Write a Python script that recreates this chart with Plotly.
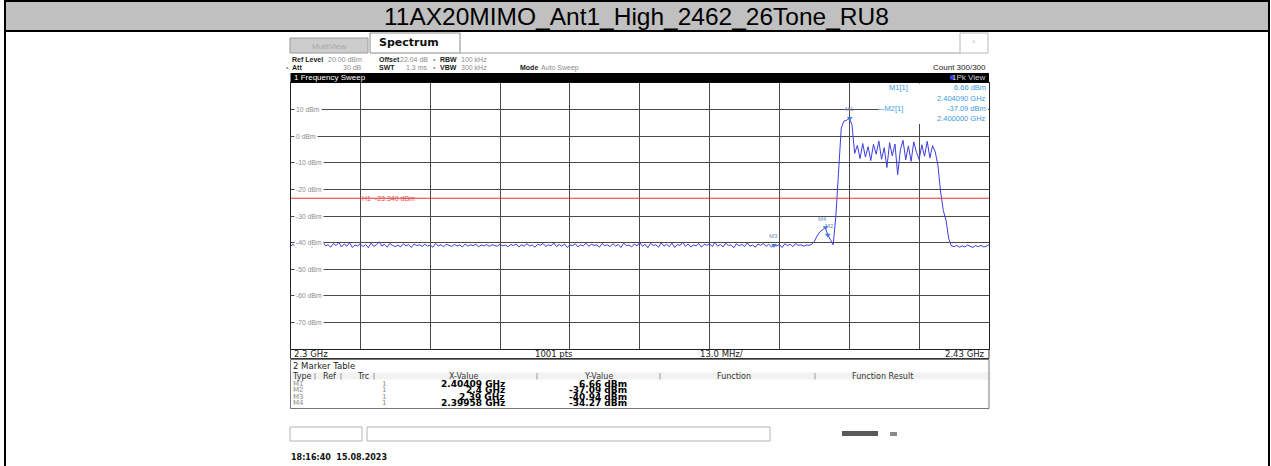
import numpy as np
import plotly.graph_objects as go

W, H = 1271, 466

title_text = "11AX20MIMO_Ant1_High_2462_26Tone_RU8"

# ---------------- trace data (0.5 MHz grid starting at 2.300 GHz) ----------------
start_ghz = 2.300
step_ghz = 0.0005

noise_left_dbm = [
    -41.3, -40.6, -41.8, -40.2, -41.0, -39.8, -41.5, -40.4, -41.9, -40.7,
    -40.1, -41.4, -39.6, -41.2, -40.8, -41.7, -40.3, -41.1, -39.9, -41.6,
    -40.5, -41.3, -40.0, -41.8, -40.9, -41.2, -40.4, -41.5, -40.7, -41.9,
    -40.2, -41.4, -40.8, -39.7, -41.3, -40.6, -41.7, -40.3, -41.0, -41.5,
    -40.9, -41.6, -40.4, -41.2, -40.7, -41.8, -40.5, -41.1, -40.8, -41.4,
    -40.6, -41.3, -40.9, -41.7, -40.3, -41.2, -40.8, -41.5, -40.6, -41.0,
    -41.4, -40.7, -41.2, -40.9, -41.6, -40.5, -41.3, -40.8, -41.1, -40.6,
    -41.5, -40.9, -41.2, -40.7, -41.4, -40.8, -41.0, -41.3, -40.6, -41.2,
    -40.9, -41.5, -40.7, -41.1, -40.5, -41.6, -40.8, -41.3, -40.4, -41.2,
    -40.9, -41.7, -40.6, -41.0, -40.3, -41.4, -40.8, -41.2, -40.1, -41.5,
    -40.7, -41.3, -40.5, -41.8, -40.9, -41.1, -40.4, -41.6, -40.8, -41.2,
    -40.2, -41.4, -40.6, -41.0, -40.9, -41.7, -40.3, -41.2, -40.8, -41.5,
    -40.4, -41.3, -40.7, -41.8, -40.2, -41.1, -40.9, -41.6, -40.5, -41.2,
    -39.9, -41.4, -40.6, -41.9, -40.3, -41.0, -40.8, -41.7, -40.1, -41.3,
    -40.6, -41.5, -40.2, -41.8, -40.7, -41.1, -39.8, -41.4, -40.5, -41.6,
    -40.9, -41.2, -40.3, -41.7, -40.6, -41.0, -40.4, -41.5, -39.9, -41.3,
    -40.7, -41.6, -40.2, -41.1, -40.8, -41.9, -40.4, -41.2, -40.6, -41.5,
    -40.1, -41.3, -40.9, -41.7, -40.5, -41.0, -40.3, -41.4, -40.6, -41.6,
    -40.94, -41.2, -40.7, -41.8, -40.4, -41.1, -40.6, -41.5, -40.3, -41.0,
    -40.8, -41.3, -40.9,
]

signal_dbm = [
    -41.0, -40.6, -39.5, -37.5, -36.0, -35.2, -34.3, -37.1, -39.0, -40.8,
    -30.0, -12.0, 3.0, 5.6, 5.9, 6.6, 4.2, -6.5,
    -3.5, -8.5, -2.8, -7.9, -4.0, -9.2, -3.1, -6.8, -1.9, -8.7,
    -4.4, -11.8, -2.5, -7.4, -3.0, -14.5, -5.2, -1.6, -8.9, -3.7,
    -9.5, -2.2, -6.1, -8.8, -3.3, -7.6, -2.0, -8.2, -3.6, -6.0,
    -11.0, -21.0, -28.0, -31.5, -38.5, -41.2,
]

noise_right_dbm = [
    -41.5, -41.0, -41.7, -41.2, -41.6, -40.9, -41.4, -41.8, -41.1, -41.5,
    -41.0, -41.6, -41.3, -40.8,
]

level_dbm = noise_left_dbm + signal_dbm + noise_right_dbm
freq_ghz = start_ghz + step_ghz * np.arange(len(level_dbm))

# ---------------- markers / lines ----------------
marker_names = ["M1", "M2", "M3", "M4"]
marker_freq_ghz = [2.40409, 2.4, 2.39, 2.39958]
marker_level_dbm = [6.66, -37.09, -40.94, -34.27]
marker_x_text = ["2.40409 GHz", "2.4 GHz", "2.39 GHz", "2.39958 GHz"]
marker_y_text = ["6.66 dBm", "-37.09 dBm", "-40.94 dBm", "-34.27 dBm"]

h1_level_dbm = -23.34
h1_text = "H1  -23.340 dBm"

y_grid_levels = [10, 0, -10, -20, -30, -40, -50, -60, -70]
x_start_label = "2.3 GHz"
x_stop_label = "2.43 GHz"
x_start_ghz = 2.30
x_stop_ghz = 2.43
span_per_div = 0.013

# ---------------- geometry helpers ----------------
def px(x):
    return x / W


def py(y):
    return 1 - y / H


PL, PR, PT, PB = 290.5, 989.0, 82.7, 349.3

fig = go.Figure()

fig.add_trace(go.Scatter(
    x=freq_ghz, y=level_dbm, mode="lines",
    line=dict(color="#3d3ddc", width=1), hoverinfo="skip", showlegend=False,
))

fig.add_trace(go.Scatter(
    x=[x_start_ghz, x_stop_ghz], y=[h1_level_dbm, h1_level_dbm], mode="lines",
    line=dict(color="#e83030", width=1), hoverinfo="skip", showlegend=False,
))

fig.add_trace(go.Scatter(
    x=marker_freq_ghz, y=marker_level_dbm, mode="markers",
    marker=dict(symbol="triangle-down", size=5, color="#3d7fd8"),
    hoverinfo="skip", showlegend=False,
))

fig.update_xaxes(
    domain=[px(PL), px(PR)], range=[x_start_ghz, x_stop_ghz],
    tick0=x_start_ghz, dtick=span_per_div, showgrid=True,
    gridcolor="#4a4a4a", gridwidth=1, showticklabels=False, ticks="",
    zeroline=False, showline=True, linecolor="#222", linewidth=1, mirror=True,
)
fig.update_yaxes(
    domain=[py(PB), py(PT)], range=[-80, 20], dtick=10, showgrid=True,
    gridcolor="#4a4a4a", gridwidth=1, showticklabels=False, ticks="",
    zeroline=False, showline=True, linecolor="#222", linewidth=1, mirror=True,
)

shapes = []
ann = []


def rect(x0, y0, x1, y1, fill=None, line="#000", lw=1, layer="above"):
    shapes.append(dict(
        type="rect", xref="paper", yref="paper",
        x0=px(x0), x1=px(x1), y0=py(y1), y1=py(y0),
        fillcolor=fill if fill else "rgba(0,0,0,0)",
        line=dict(color=line, width=lw) if lw else dict(width=0),
        layer=layer,
    ))


def hline(x0, x1, y, color="#000", lw=1):
    shapes.append(dict(type="line", xref="paper", yref="paper",
                       x0=px(x0), x1=px(x1), y0=py(y), y1=py(y),
                       line=dict(color=color, width=lw)))


def vline(x, y0, y1, color="#000", lw=1):
    shapes.append(dict(type="line", xref="paper", yref="paper",
                       x0=px(x), x1=px(x), y0=py(y0), y1=py(y1),
                       line=dict(color=color, width=lw)))


def text(x, y, s, size=8, color="#222", anchor="left", family="Liberation Sans",
         bg=None):
    a = dict(x=px(x), y=py(y), xref="paper", yref="paper",
             text=s, showarrow=False, xanchor=anchor, yanchor="middle",
             font=dict(size=size, color=color, family=family), borderpad=0)
    if bg:
        a["bgcolor"] = bg
    ann.append(a)


# ---------------- title bar and outer frame ----------------
rect(5, 1, 1269, 31, fill="#c0c0c0", line="#000", lw=2)
vline(5, 31, 466, lw=2)
vline(1269, 31, 466, lw=2)
text(636, 16.5, title_text, size=24.5, color="#000", anchor="center")

# ---------------- instrument tabs ----------------
rect(290, 38, 368, 53, fill="#cdcdcd", line="#9a9a9a", lw=1)
text(329, 46, "MultiView", size=8, color="#a8a8a8", anchor="center")
rect(370, 33, 460, 53, fill="#ffffff", line="#8a8a8a", lw=1)
text(378, 43, "<b>Spectrum</b>", size=11, color="#111", family="DejaVu Sans")
hline(460, 960, 53, color="#9a9a9a")
rect(960, 33, 988, 53, fill="#ffffff", line="#b8b8b8", lw=1)
text(974, 43, "^", size=7, color="#b0b0b0", anchor="center")

# header lines
hs = 7
gray = "#8c8c8c"
dark = "#222"
r1, r2 = 59, 67.7
text(291, r1, "<b>Ref Level</b>", hs, dark)
text(363, r1, "20.00 dBm", hs, gray, anchor="right")
text(378, r1, "<b>Offset</b>", hs, dark)
text(429, r1, "22.04 dB", hs, gray, anchor="right")
text(432, r1, "\u2022", hs, gray)
text(439, r1, "<b>RBW</b>", hs, dark)
text(460, r1, "100 kHz", hs, gray)
text(285, r2, "\u2022", hs, gray)
text(291, r2, "<b>Att</b>", hs, dark)
text(363, r2, "30 dB", hs, gray, anchor="right")
text(378, r2, "<b>SWT</b>", hs, dark)
text(429, r2, "1.3 ms", hs, gray, anchor="right")
text(432, r2, "\u2022", hs, gray)
text(439, r2, "<b>VBW</b>", hs, dark)
text(460, r2, "300 kHz", hs, gray)
text(519, r2, "<b>Mode</b>", hs, dark)
text(540, r2, "Auto Sweep", hs, gray)
text(987, r2, "Count 300/300", 8, dark, anchor="right")

# black "1 Frequency Sweep" bar
rect(PL, 73.0, PR, PT, fill="#000", line="#000", lw=0)
text(293, 77.5, "1 Frequency Sweep", 8, "#ffffff")
rect(950, 75.5, 954, 79.5, fill="#3a3aff", lw=0)
text(986, 77.5, "1Pk View", 8, "#cfcfcf", anchor="right")

# marker readout box (hides gridlines)
rect(879, PT + 0.8, PR - 1, 124, fill="#ffffff", lw=0)
info_c = "#3d9be0"
text(888, 87.5, "M1[1]", 7.5, info_c)
text(987, 87.5, marker_y_text[0], 7.5, info_c, anchor="right")
text(987, 98, "2.404090 GHz", 7.5, info_c, anchor="right")
text(876, 108.5, "\u2014M2[1]", 7.5, info_c)
text(987, 108.5, marker_y_text[1], 7.5, info_c, anchor="right")
text(987, 119, "2.400000 GHz", 7.5, info_c, anchor="right")

# y-level labels inside the plot
for lv in y_grid_levels:
    ann.append(dict(x=px(PL + 3), y=lv, xref="paper", yref="y",
                    text=f"{lv} dBm", showarrow=False, xanchor="left",
                    yanchor="middle", bgcolor="#ffffff", borderpad=1,
                    font=dict(size=6.8, color="#8c8c8c", family="Liberation Sans")))

# H1 label
ann.append(dict(x=2.313, y=h1_level_dbm, xref="x", yref="y", text=h1_text,
                showarrow=False, xanchor="left", yanchor="middle",
                font=dict(size=7, color="#e05050", family="Liberation Sans")))

# marker labels on trace
lab_offsets = {"M1": (0, 9), "M2": (2, 9), "M3": (-1, 9), "M4": (-3, 8)}
for name, f, lv in zip(marker_names, marker_freq_ghz, marker_level_dbm):
    dx, dy = lab_offsets[name]
    ann.append(dict(x=f, y=lv, xref="x", yref="y", text=name, showarrow=False,
                    xanchor="center", yanchor="middle", xshift=dx, yshift=dy,
                    font=dict(size=6, color="#6a8cc0", family="Liberation Sans")))

# bottom axis row
hline(PL, PR, 358.5, color="#333")
vline(PL, PB, 358.5, color="#333")
vline(PR, PB, 358.5, color="#333")
text(293, 354.2, x_start_label, 8.5, dark, family="DejaVu Sans")
text(534, 354.2, "1001 pts", 8.5, dark, family="DejaVu Sans")
text(699, 354.2, "13.0 MHz/", 8.5, dark, family="DejaVu Sans")
text(986, 354.2, x_stop_label, 8.5, dark, anchor="right", family="DejaVu Sans")

# marker table
rect(PL, 359.5, PR, 408.5, fill=None, line="#777", lw=1)
text(292, 366, "2 Marker Table", 8.5, dark, family="DejaVu Sans")
rect(PL + 1, 372.5, PR - 1, 379.5, fill="#f2f2f2", lw=0)
hy = 376.3
text(291, hy, "Type", 8, "#333", family="DejaVu Sans")
text(322, hy, "Ref", 8, "#333", family="DejaVu Sans")
text(356, hy, "Trc", 8, "#333", family="DejaVu Sans")
text(464, hy, "X-Value", 8, "#333", anchor="center", family="DejaVu Sans")
text(598, hy, "Y-Value", 8, "#333", anchor="center", family="DejaVu Sans")
text(734, hy, "Function", 8, "#333", anchor="center", family="DejaVu Sans")
text(882, hy, "Function Result", 8, "#333", anchor="center", family="DejaVu Sans")
for sx in [315, 341, 374, 537, 660, 815]:
    vline(sx, 373, 379.5, color="#999")
row_y = [383.6, 390.2, 396.8, 403.4]
for name, xt, yt, ry in zip(marker_names, marker_x_text, marker_y_text, row_y):
    text(292, ry, name, 7, "#8a8a8a", family="DejaVu Sans")
    text(381, ry, "1", 7, "#8a8a8a", family="DejaVu Sans")
    text(506, ry, f"<b>{xt}</b>", 9, "#000", anchor="right", family="DejaVu Sans")
    text(628, ry, f"<b>{yt}</b>", 9, "#000", anchor="right", family="DejaVu Sans")

# footer
rect(290, 427, 362, 441, fill="#ffffff", line="#b5b5b5", lw=1)
rect(367, 427, 770, 441, fill="#ffffff", line="#b5b5b5", lw=1)
rect(842, 431, 878, 436, fill="#5a5a5a", lw=0)
rect(890, 432, 897, 436, fill="#8a8a8a", lw=0)
text(290, 457, "<b>18:16:40  15.08.2023</b>", 8, "#111", family="DejaVu Sans")

fig.update_layout(
    width=W, height=H, margin=dict(l=0, r=0, t=0, b=0),
    paper_bgcolor="#ffffff", plot_bgcolor="#ffffff",
    shapes=shapes, annotations=ann, showlegend=False,
)

fig.write_html(
    "out.html",
    config={"displayModeBar": False},
    post_script="document.body.style.margin='0';document.body.style.padding='0';",
)
